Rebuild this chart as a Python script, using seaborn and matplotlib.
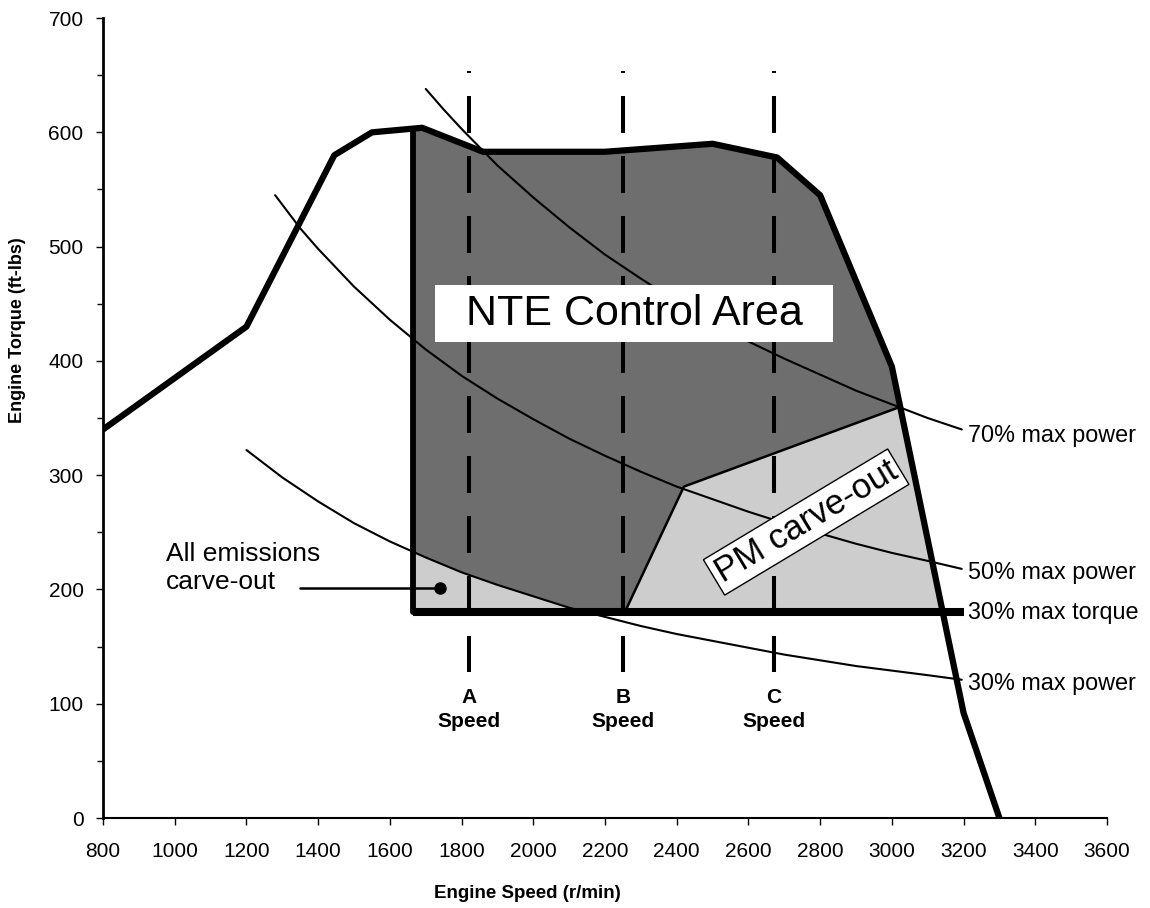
import numpy as np
import matplotlib
matplotlib.use("Agg")
import matplotlib.pyplot as plt
from matplotlib.patches import Rectangle
import seaborn as sns

#lug curve of the engine
lug_rpm = [800, 1200, 1445, 1550, 1690, 1860, 2200, 2500, 2680, 2800, 3000, 3200, 3300]
lug_torque = [340, 430, 580, 600, 604, 583, 583, 590, 578, 545, 395, 92, 0]

#constant power lines
p70_rpm = [1700, 1750, 1800, 1900, 2000, 2100, 2200, 2300, 2400, 2500, 2600, 2700,
           2800, 2900, 3000, 3100, 3195]
p70_torque = [638, 620, 603, 571, 543, 517, 493, 472, 452, 434, 417, 402,
              388, 374, 362, 350, 340]
p50_rpm = [1280, 1350, 1400, 1500, 1600, 1700, 1800, 1900, 2000, 2100, 2200, 2300,
           2400, 2500, 2600, 2700, 2800, 2900, 3000, 3100, 3195]
p50_torque = [545, 516, 498, 465, 436, 410, 387, 367, 349, 332, 317, 303,
              290, 279, 268, 258, 249, 240, 232, 225, 218]
p30_rpm = [1200, 1300, 1400, 1500, 1600, 1700, 1800, 1900, 2000, 2100, 2200, 2300,
           2400, 2500, 2600, 2700, 2800, 2900, 3000, 3100, 3195]
p30_torque = [322, 298, 277, 258, 242, 228, 215, 204, 194, 184, 176, 168,
              161, 155, 149, 143, 138, 133, 129, 125, 121]

#NTE zone limits
nte_min_rpm = 1665
torque_30 = 180
torque_30_end = 3200

#PM carve-out corners
pm_rpm = [2255, 2420, 3025, 3142]
pm_torque = [180, 290, 360, 180]

#A, B, C speeds
speed_names = ["A", "B", "C"]
speed_rpm = [1820, 2250, 2670]
speed_top, speed_bottom = 654, 128

#all emissions marker
ae_dot = (1740, 201)
ae_line_start = 1349

sns.set_style("ticks")
plt.rcParams["font.family"] = ["Liberation Sans", "DejaVu Sans"]
plt.rcParams["lines.scale_dashes"] = False
for k in ["text.color", "axes.labelcolor", "xtick.color", "ytick.color", "axes.edgecolor"]:
    plt.rcParams[k] = "black"

fig = plt.figure(figsize=(11.5, 9.08), dpi=100)
ax = fig.add_axes([0.0896, 0.0991, 0.873, 0.881])

dark = "#6e6e6e"
light = "#cdcdcd"

#NTE control area polygon (lug curve cut at the 30% torque line)
desc = slice(9, 13)
nte_max_rpm = np.interp(torque_30, lug_torque[desc][::-1], lug_rpm[desc][::-1])
top_at_min = np.interp(nte_min_rpm, lug_rpm, lug_torque)
inner = [(r, t) for r, t in zip(lug_rpm, lug_torque) if nte_min_rpm < r < nte_max_rpm]
poly = [(nte_min_rpm, torque_30), (nte_min_rpm, top_at_min)] + inner + [(nte_max_rpm, torque_30)]
ax.fill([p[0] for p in poly], [p[1] for p in poly], color=dark, lw=0, zorder=1)

#all emissions carve-out (below 30% power line)
ae_end = np.interp(torque_30, p30_torque[::-1], p30_rpm[::-1])
xs = np.linspace(nte_min_rpm, ae_end, 100)
ax.fill_between(xs, torque_30, np.interp(xs, p30_rpm, p30_torque), color=light, lw=0, zorder=2)

#PM carve-out
ax.fill(pm_rpm, pm_torque, color=light, lw=0, zorder=2)
ax.plot(pm_rpm[:3], pm_torque[:3], color="black", lw=1.8, zorder=4)

#power lines
for r, t in [(p70_rpm, p70_torque), (p50_rpm, p50_torque), (p30_rpm, p30_torque)]:
    sns.lineplot(x=r, y=t, ax=ax, color="black", lw=1.5, sort=False, zorder=4)

#A B C speed lines
for name, r in zip(speed_names, speed_rpm):
    ax.plot([r, r], [speed_top, speed_bottom], color="black", lw=2.9,
            linestyle=(25.2, (26.6, 16.6)), solid_capstyle="butt", zorder=3)
    ax.text(r, 95, name + "\nSpeed", ha="center", va="center", fontsize=15,
            fontweight="bold", linespacing=1.35, zorder=6)

#NTE borders and lug curve
ax.plot([nte_min_rpm, nte_min_rpm], [torque_30, top_at_min], color="black", lw=4.2, zorder=5)
ax.plot([nte_min_rpm, torque_30_end], [torque_30, torque_30], color="black", lw=5.8,
        solid_capstyle="butt", zorder=5)
sns.lineplot(x=lug_rpm, y=lug_torque, ax=ax, color="black", lw=4.5, sort=False, zorder=5)

#labels
ax.add_patch(Rectangle((1726, 416.5), 1110, 49.5, fc="white", ec="none", zorder=7))
ax.text(2281, 441, "NTE Control Area", ha="center", va="center", fontsize=31, zorder=8)
ax.text(2761, 259, "PM carve-out", ha="center", va="center", fontsize=25, rotation=31,
        rotation_mode="anchor", zorder=7,
        bbox=dict(boxstyle="square,pad=0.12", fc="white", ec="black", lw=1))
ax.text(976, 219, "All emissions\ncarve-out", ha="left", va="center", fontsize=19,
        linespacing=1.2, zorder=7)
ax.plot([ae_line_start, ae_dot[0]], [ae_dot[1], ae_dot[1]], color="black", lw=1.8, zorder=7)
ax.plot(*ae_dot, "o", color="black", ms=8, zorder=7)

side_labels = ["70% max power", "50% max power", "30% max torque", "30% max power"]
side_y = [335, 215, 180, 118]
for lab, y in zip(side_labels, side_y):
    ax.text(3212, y, lab, ha="left", va="center", fontsize=16.8, clip_on=False, zorder=7)

#axes
ax.set_xlim(800, 3600)
ax.set_ylim(0, 700)
ax.set_xticks(range(800, 3601, 200))
ax.set_yticks(range(0, 701, 100))
ax.set_yticks(range(50, 700, 100), minor=True)
ax.tick_params(axis="both", which="major", labelsize=15, length=5, width=1, colors="black")
ax.tick_params(axis="x", pad=12)
ax.tick_params(axis="y", pad=9)
ax.tick_params(axis="y", which="minor", length=4, width=1)
ax.set_xlabel("")
ax.set_ylabel("")
sns.despine(ax=ax)
ax.spines["left"].set_linewidth(2)
ax.spines["bottom"].set_linewidth(1.5)

fig.text(18 / 1150, 1 - 330 / 908, "Engine Torque (ft-lbs)", rotation=90, ha="center",
         va="center", fontsize=13, fontweight="bold")
fig.text(527 / 1150, 1 - 893 / 908, "Engine Speed (r/min)", ha="center", va="center",
         fontsize=13.5, fontweight="bold")

fig.savefig("out.png", dpi=100)
